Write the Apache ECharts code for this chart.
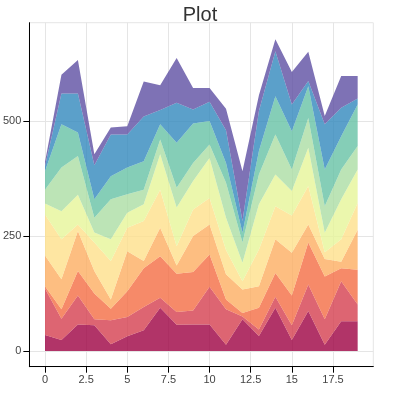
<!DOCTYPE html>
<html>
<head>
<meta charset="utf-8">
<script src="https://cdn.jsdelivr.net/npm/echarts@6/dist/echarts.min.js"></script>
<style>html,body{margin:0;padding:0;background:#fff}#c{width:400px;height:395px}</style>
</head>
<body>
<div id="c"></div>
<script>
const xValues = [0,1,2,3,4,5,6,7,8,9,10,11,12,13,14,15,16,17,18,19];
const y0 = [35,24,58,56,15,32,45,94,57,58,58,14,69,33,94,24,87,14,65,65];
const y1 = [101,46,63,13,52,42,51,22,28,30,82,77,6,14,24,32,58,55,87,36];
const y2 = [5,21,53,56,25,56,84,90,83,84,70,21,8,47,52,65,91,93,28,76];
const y3 = [67,65,87,49,20,87,16,62,18,78,65,55,51,47,73,93,39,38,14,87];
const y4 = [89,87,14,62,84,51,87,83,42,58,58,53,18,80,72,81,84,15,49,58];
const y5 = [24,61,65,22,47,33,36,77,84,62,87,70,40,98,69,53,83,42,87,73];
const y6 = [30,95,84,32,87,40,32,32,43,39,29,76,44,65,87,47,65,58,65,51];
const y7 = [40,94,51,40,50,58,62,33,98,86,51,43,21,51,83,83,69,80,72,90];
const y8 = [11,67,85,74,91,72,97,31,87,30,42,71,26,87,98,58,11,98,62,13];
const y9 = [9,41,73,24,15,18,76,54,97,47,30,47,108,34,26,71,64,18,69,49];
const seriesNames = ['y0','y1','y2','y3','y4','y5','y6','y7','y8','y9'];
const seriesValues = [y0,y1,y2,y3,y4,y5,y6,y7,y8,y9];
const colors = ['#9e0142','#d53e4f','#f46d43','#fdae61','#fee08b','#e6f598','#abdda4','#66c2a5','#3288bd','#5e4fa2'];
const xTicks = [0,2.5,5,7.5,10,12.5,15,17.5];
const xTickLabels = ['0','2.5','5','7.5','10','12.5','15','17.5'];
const yTicks = [0,250,500];
const yTickLabels = ['0','250','500'];
const titleText = 'Plot';

const chart = echarts.init(document.getElementById('c'), null, {renderer:'canvas'});
const font = "'Liberation Sans', Arial, Helvetica, sans-serif";
chart.setOption({
  animation: false,
  title: {text: titleText, left: 'center', top: 0, textStyle: {fontFamily: font, fontSize: 20, fontWeight: 'normal', color: '#333'}},
  grid: {left: 27.3, right: 26.7, top: 22.7, bottom: 28.3, show: true, borderColor: '#e5e5e5', borderWidth: 1, backgroundColor: 'transparent'},
  xAxis: {
    type: 'value', min: -0.95, max: 19.95,
    axisLine: {show: true, onZero: false, lineStyle: {color: '#000', width: 1}},
    axisTick: {show: true, length: 6, customValues: xTicks, lineStyle: {color: '#000'}},
    axisLabel: {customValues: xTicks, formatter: v => xTickLabels[xTicks.indexOf(v)] ?? '', fontFamily: font, fontSize: 11, color: '#444', margin: 8},
    splitLine: {show: true, lineStyle: {color: '#e5e5e5', width: 1}}
  },
  yAxis: {
    type: 'value', min: -34, max: 714,
    axisLine: {show: true, onZero: false, lineStyle: {color: '#000', width: 1}},
    axisTick: {show: true, length: 6, customValues: yTicks, lineStyle: {color: '#000'}},
    axisLabel: {customValues: yTicks, formatter: v => yTickLabels[yTicks.indexOf(v)] ?? '', fontFamily: font, fontSize: 11, color: '#444', margin: 8},
    splitLine: {show: true, lineStyle: {color: '#e5e5e5', width: 1}}
  },
  series: seriesValues.map((vals, k) => ({
    name: seriesNames[k], type: 'line', stack: 'total', symbol: 'none',
    lineStyle: {width: 0}, color: colors[k],
    areaStyle: {color: colors[k], opacity: 0.8},
    encode: {x: 1, y: 0},
    data: vals.map((v, i) => [v, xValues[i]])
  }))
});
</script>
</body>
</html>
